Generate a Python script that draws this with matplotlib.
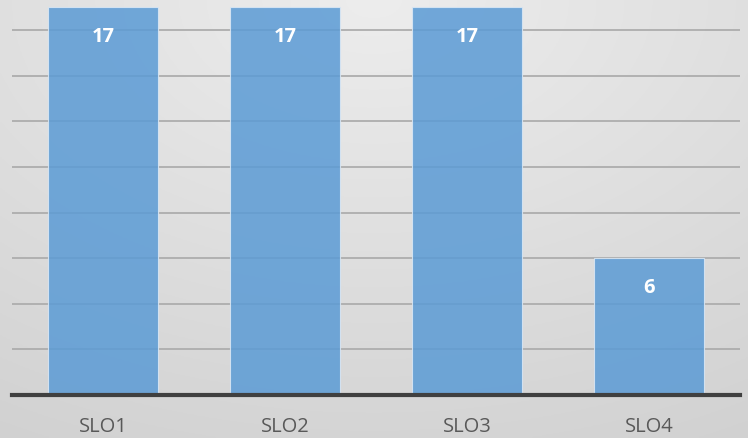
import numpy as np
import matplotlib.pyplot as plt

categories = ['SLO1', 'SLO2', 'SLO3', 'SLO4']
values = [17, 17, 17, 6]

plt.rcParams['font.family'] = ['Open Sans', 'DejaVu Sans']

fig = plt.figure(figsize=(7.48, 4.39), dpi=100)

# gray radial background, light at top centre
bg = fig.add_axes([0, 0, 1, 1], zorder=0)
yy, xx = np.mgrid[0:1:200j, 0:1:300j]
r = np.sqrt(((xx - 0.5) * 1.1) ** 2 + yy ** 2)
gray = (237 - 28 * np.clip(r / 1.15, 0, 1)) / 255
bg.imshow(np.dstack([gray, gray, gray]), aspect='auto',
          extent=[0, 1, 0, 1], origin='upper')
bg.axis('off')

ax = fig.add_axes([12 / 748, 43 / 439, 728 / 748, 396 / 439], zorder=1)
ax.patch.set_alpha(0)

x = np.arange(len(categories))
bars = ax.bar(x, values, width=0.6, color='#5b9bd5', alpha=0.85,
              edgecolor='#dbe8f5', linewidth=0.8, zorder=3)

for b, v in zip(bars, values):
    ax.text(b.get_x() + b.get_width() / 2, v - 1.27, str(v), ha='center',
            va='center', color='white', fontsize=14.5, fontweight='bold', zorder=4)

ax.set_xlim(-0.5, 3.5)
ax.set_ylim(0, 17.37)
ax.set_yticks(range(2, 17, 2))
ax.yaxis.grid(True, color='#adadad', linewidth=1.3, zorder=1)
ax.set_axisbelow(True)
ax.tick_params(axis='y', left=False, labelleft=False)
ax.set_xticks(x)
ax.set_xticklabels(categories, fontsize=14.5, color='#595959')
ax.tick_params(axis='x', length=0, pad=15)

for s in ['top', 'right', 'left']:
    ax.spines[s].set_visible(False)
ax.spines['bottom'].set_color('#404040')
ax.spines['bottom'].set_linewidth(3)
ax.spines['bottom'].set_zorder(5)

fig.savefig('out.png', dpi=100)
